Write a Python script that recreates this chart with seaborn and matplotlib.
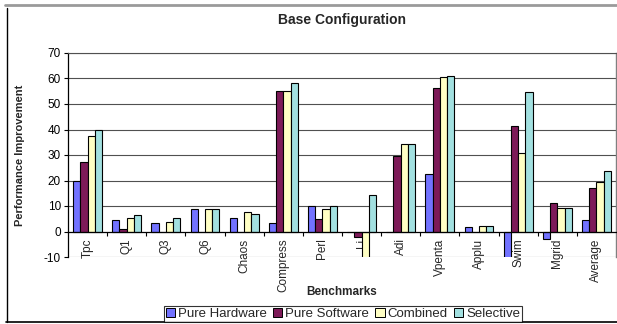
import matplotlib
matplotlib.use("Agg")
import matplotlib.pyplot as plt
from matplotlib.lines import Line2D
from matplotlib.patches import Patch
import seaborn as sns
import pandas as pd
import numpy as np

benchmarks = ["Tpc", "Q1", "Q3", "Q6", "Chaos", "Compress", "Perl", "Li",
              "Adi", "Vpenta", "Applu", "Swim", "Mgrid", "Average"]
pure_hardware = [20.0, 4.5, 3.5, 8.7, 5.4, 3.3, 9.9, -0.3, -0.3, 22.7, 1.7, -12.0, -2.9, 4.7]
pure_software = [27.1, 0.8, -0.3, -0.3, -0.2, 55.1, 4.9, -2.1, 29.6, 56.2, -0.3, 41.3, 11.2, 17.1]
combined = [37.3, 5.4, 3.9, 8.7, 7.6, 55.2, 8.8, -11.0, 34.3, 60.4, 2.0, 30.8, 9.1, 19.3]
selective = [39.7, 6.6, 5.1, 8.8, 6.8, 58.1, 10.0, 14.2, 34.4, 60.8, 2.0, 54.7, 9.3, 23.8]

series_names = ["Pure Hardware", "Pure Software", "Combined", "Selective"]
series_colors = ["#7272FF", "#7D1A58", "#FFFFC4", "#A2E0E0"]

df = pd.DataFrame({
    "Benchmarks": benchmarks * 4,
    "Series": np.repeat(series_names, len(benchmarks)),
    "Value": pure_hardware + pure_software + combined + selective,
})

sns.set_style("white")
plt.rcParams["font.family"] = ["Liberation Sans", "DejaVu Sans"]
plt.rcParams["axes.unicode_minus"] = False

fig = plt.figure(figsize=(6.17, 3.24), dpi=100)
ax = fig.add_axes([68 / 617, 1 - 257 / 324, 548 / 617, 204 / 324])

# gridlines behind the bars
for yv in range(-10, 71, 10):
    if yv != 0:
        ax.axhline(yv, color="#505050", lw=0.8, zorder=0)

sns.barplot(data=df, x="Benchmarks", y="Value", hue="Series",
            hue_order=series_names, palette=series_colors, width=0.74,
            edgecolor="black", linewidth=0.8, saturation=1, ax=ax,
            legend=False, errorbar=None)

ax.set_ylim(-10, 70)
ax.set_xlim(-0.5, len(benchmarks) - 0.5)
ax.set_yticks(range(-10, 71, 10))
ax.tick_params(axis="y", labelsize=8.5, length=3, width=0.8, direction="out",
               left=True, pad=2, colors="black")

# x axis sits on the zero line
ax.spines["bottom"].set_position(("data", 0))
ax.spines["bottom"].set_color("black")
ax.spines["bottom"].set_linewidth(0.9)
ax.spines["left"].set_color("black")
ax.spines["left"].set_linewidth(0.9)
ax.spines["top"].set_color("#505050")
ax.spines["top"].set_linewidth(0.8)
ax.spines["right"].set_color("#808080")
ax.spines["right"].set_linewidth(1.0)

ax.set_xticks(range(len(benchmarks)))
ax.set_xticklabels(benchmarks, rotation=90, fontsize=8.5, va="top", ha="center")
ax.tick_params(axis="x", which="major", length=0, pad=5, bottom=True)
ax.set_xticks(np.arange(0.5, len(benchmarks) - 0.5, 1), minor=True)
ax.tick_params(axis="x", which="minor", length=3, width=0.8, direction="out",
               bottom=True, color="black")

ax.set_xlabel("")
ax.set_ylabel("")
fig.text(20 / 617, 1 - 155 / 324, "Performance Improvement", rotation=90,
         fontsize=8, fontweight="bold", ha="center", va="center")
fig.text(342 / 617, 1 - 292 / 324, "Benchmarks", fontsize=8.5,
         fontweight="bold", ha="center", va="center")
fig.text(342 / 617, 1 - 20 / 324, "Base Configuration", fontsize=10,
         fontweight="bold", ha="center", va="center")

handles = [Patch(facecolor=c, edgecolor="black", linewidth=0.7) for c in series_colors]
leg = fig.legend(handles, series_names, loc="center", ncol=4,
                 bbox_to_anchor=(343 / 617, 1 - 314 / 324), fontsize=9.5,
                 frameon=True, fancybox=False, handlelength=0.7,
                 handleheight=0.7, handletextpad=0.25, columnspacing=0.45,
                 borderpad=0.15, borderaxespad=0)
leg.get_frame().set_edgecolor("black")
leg.get_frame().set_linewidth(0.8)

# chart frame
fig.add_artist(Line2D([5 / 617, 1], [1 - 5 / 324, 1 - 5 / 324],
                      color="#9a9a9a", lw=2.0, transform=fig.transFigure))
fig.add_artist(Line2D([6.5 / 617, 6.5 / 617], [1 - 8 / 324, 1 - 322 / 324],
                      color="black", lw=1.0, transform=fig.transFigure))
fig.add_artist(Line2D([6 / 617, 1], [1 - 322 / 324, 1 - 322 / 324],
                      color="black", lw=1.2, transform=fig.transFigure))

fig.savefig("out.png", dpi=100)
